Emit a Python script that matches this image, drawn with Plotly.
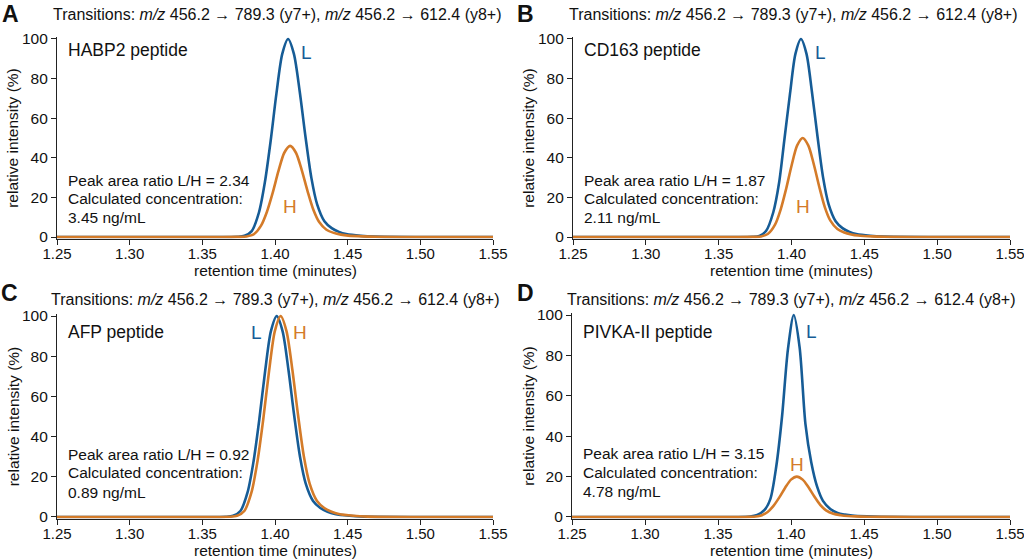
import plotly.graph_objects as go

# ---------------- data ----------------
A_L_x = [1.25, 1.30, 1.35, 1.374, 1.379, 1.384, 1.389, 1.393, 1.397, 1.401, 1.405, 1.409,
         1.413, 1.417, 1.421, 1.425, 1.429, 1.434, 1.439, 1.444, 1.449, 1.459, 1.469, 1.50, 1.55]
A_L_y = [0, 0, 0, 0.1, 0.6, 3.0, 12.5, 27.5, 48.5, 72.5, 92.5, 100,
         92.5, 73.5, 50.5, 30, 16.5, 8, 4.5, 2.6, 1.5, 0.6, 0.2, 0, 0]
A_H_x = [1.25, 1.30, 1.35, 1.3754, 1.3804, 1.3854, 1.3904, 1.3944, 1.3984, 1.4024, 1.4064, 1.4104,
         1.4144, 1.4184, 1.4224, 1.4264, 1.4304, 1.4354, 1.4404, 1.4454, 1.4504, 1.4604, 1.4704, 1.50, 1.55]
A_H_y = [0, 0, 0, 0.05, 0.3, 1.4, 5.75, 12.65, 22.3, 33.35, 42.55, 46,
         42.55, 33.8, 23.2, 13.8, 7.6, 3.7, 2.1, 1.2, 0.7, 0.3, 0.1, 0, 0]

B_L_x = [1.25, 1.30, 1.35, 1.3735, 1.378, 1.3825, 1.3875, 1.3915, 1.395, 1.399, 1.4027, 1.4065,
         1.4103, 1.414, 1.4179, 1.4217, 1.4255, 1.4303, 1.435, 1.4398, 1.4445, 1.454, 1.4635, 1.50, 1.55]
B_L_y = [0, 0, 0, 0.1, 0.6, 3.0, 12.5, 27.5, 48.5, 72.5, 92.5, 100,
         92.5, 73.5, 50.5, 30, 16.5, 8, 4.5, 2.6, 1.5, 0.6, 0.2, 0, 0]
B_H_x = [1.25, 1.30, 1.35, 1.3745, 1.3792, 1.3837, 1.3887, 1.3925, 1.3963, 1.4001, 1.4039, 1.4077,
         1.4115, 1.4153, 1.4191, 1.4229, 1.4267, 1.4315, 1.4362, 1.441, 1.4457, 1.4552, 1.4647, 1.50, 1.55]
B_H_y = [0, 0, 0, 0.05, 0.3, 1.5, 6.25, 13.75, 24.25, 36.25, 46.25, 50,
         46.25, 36.75, 25.25, 15, 8.25, 4, 2.25, 1.3, 0.75, 0.3, 0.1, 0, 0]

C_L_x = [1.25, 1.30, 1.34, 1.3662, 1.3712, 1.3762, 1.3812, 1.3852, 1.3892, 1.3932, 1.3972, 1.4012,
         1.4052, 1.4092, 1.4132, 1.4172, 1.4212, 1.4262, 1.4312, 1.4362, 1.4412, 1.4512, 1.4612, 1.50, 1.55]
C_L_y = [0, 0, 0, 0.1, 0.6, 3.0, 12.5, 27.5, 48.5, 72.5, 92.5, 100,
         92.5, 73.5, 50.5, 30, 16.5, 8, 4.5, 2.6, 1.5, 0.6, 0.2, 0, 0]
C_H_x = [1.25, 1.30, 1.34, 1.3689, 1.3739, 1.3789, 1.3839, 1.3879, 1.3919, 1.3959, 1.3999, 1.4039,
         1.4079, 1.4119, 1.4159, 1.4199, 1.4239, 1.4289, 1.4339, 1.4389, 1.4439, 1.4539, 1.4639, 1.50, 1.55]
C_H_y = [0, 0, 0, 0.1, 0.6, 3.0, 12.5, 27.5, 48.5, 72.5, 92.5, 100,
         92.5, 73.5, 50.5, 30, 16.5, 8, 4.5, 2.6, 1.5, 0.6, 0.2, 0, 0]

D_L_x = [1.25, 1.30, 1.35, 1.3719, 1.3769, 1.3819, 1.3859, 1.3899, 1.3939, 1.3979, 1.4019,
         1.4059, 1.4099, 1.4139, 1.4179, 1.4219, 1.4269, 1.4319, 1.4369, 1.4419, 1.4519, 1.4619, 1.50, 1.55]
D_L_y = [0, 0, 0, 0.2, 1.0, 3.5, 9.0, 25, 50, 83, 100,
         84, 46, 27, 15, 8, 4, 2, 1.2, 0.7, 0.3, 0.1, 0, 0]
D_H_x = [1.25, 1.30, 1.34, 1.369, 1.374, 1.379, 1.384, 1.388, 1.392, 1.396, 1.400, 1.404,
         1.408, 1.412, 1.416, 1.420, 1.424, 1.429, 1.434, 1.439, 1.444, 1.454, 1.464, 1.50, 1.55]
D_H_y = [0, 0, 0, 0.02, 0.12, 0.6, 2.5, 5.5, 9.7, 14.5, 18.5, 20,
         18.5, 14.7, 10.1, 6, 3.3, 1.6, 0.9, 0.5, 0.3, 0.12, 0.04, 0, 0]

x_ticks = [1.25, 1.30, 1.35, 1.40, 1.45, 1.50, 1.55]
y_ticks = [0, 20, 40, 60, 80, 100]

panels = ["A", "B", "C", "D"]
peptides = ["HABP2 peptide", "CD163 peptide", "AFP peptide", "PIVKA-II peptide"]
ratios = ["2.34", "1.87", "0.92", "3.15"]
concs = ["3.45", "2.11", "0.89", "4.78"]
title_text = "Transitions: <i>m/z</i> 456.2 → 789.3 (y7+), <i>m/z</i> 456.2 → 612.4 (y8+)"

curves = {
    "A": (A_L_x, A_L_y, A_H_x, A_H_y),
    "B": (B_L_x, B_L_y, B_H_x, B_H_y),
    "C": (C_L_x, C_L_y, C_H_x, C_H_y),
    "D": (D_L_x, D_L_y, D_H_x, D_H_y),
}

# ---------------- style / layout ----------------
W, H = 1024, 559
BLUE = "#165c96"
ORANGE = "#d47b29"
TXT = "#111111"
FONT = "Liberation Sans, Arial, sans-serif"


def px(x):
    return x / W


def py(y):
    return 1 - y / H


xdom = {"A": [px(57), px(493)], "B": [px(573), px(1010)],
        "C": [px(57), px(493)], "D": [px(572), px(1010)]}
ydom = {"A": [py(238.6), py(37.0)], "B": [py(238.6), py(37.0)],
        "C": [py(518.6), py(314.0)], "D": [py(518.6), py(313.0)]}

L_pos = {"A": (1.422, 93.4), "B": (1.4196, 93.4), "C": (1.3876, 92), "D": (1.4137, 91.6)}
H_pos = {"A": (1.4103, 15.2), "B": (1.4079, 15.2), "C": (1.4172, 92), "D": (1.4041, 26.2)}
pep_y = {"A": 94.4, "B": 94.4, "C": 92.0, "D": 91.6}
txt_y = {"A": [28.3, 19.2, 10.1], "B": [28.3, 19.2, 10.1],
         "C": [31.3, 21.9, 12.4], "D": [31.2, 21.8, 12.4]}
letter_pos = {"A": (10, 14), "B": (525, 14), "C": (9, 293), "D": (525, 293)}
title_pos = {"A": (277, 15), "B": (793, 15), "C": (275, 299), "D": (791, 299)}
xtitle_y = {"A": 270, "B": 270, "C": 550, "D": 550}
ytitle_x = {"A": 13, "B": 529, "C": 13, "D": 529}

fig = go.Figure()
annotations = []
layout_axes = {}

for i, p in enumerate(panels):
    n = "" if i == 0 else str(i + 1)
    xa, ya = "x" + n, "y" + n
    Lx, Ly, Hx, Hy = curves[p]
    fig.add_trace(go.Scatter(x=Lx, y=Ly, mode="lines", xaxis=xa, yaxis=ya,
                             line=dict(color=BLUE, width=2.6, shape="spline", smoothing=0.8),
                             showlegend=False, hoverinfo="skip"))
    fig.add_trace(go.Scatter(x=Hx, y=Hy, mode="lines", xaxis=xa, yaxis=ya,
                             line=dict(color=ORANGE, width=2.6, shape="spline", smoothing=0.8),
                             showlegend=False, hoverinfo="skip"))

    layout_axes["xaxis" + n] = dict(
        domain=xdom[p], range=[1.25, 1.55], anchor=ya, automargin=False,
        tickvals=x_ticks, ticktext=[f"{v:.2f}" for v in x_ticks],
        ticks="outside", ticklen=5, tickwidth=1.2, tickcolor="#222",
        ticklabelstandoff=-4, ticklabeloverflow="allow",
        showline=True, linecolor="#222", linewidth=1.2,
        showgrid=False, zeroline=False,
        tickfont=dict(size=15, color=TXT, family=FONT),
    )
    layout_axes["yaxis" + n] = dict(
        domain=ydom[p], range=[-0.8, 101], anchor=xa, automargin=False,
        tickvals=y_ticks, ticks="outside", ticklen=5, tickwidth=1.2, tickcolor="#222",
        showline=True, linecolor="#222", linewidth=1.2,
        showgrid=False, zeroline=False,
        tickfont=dict(size=15.5, color=TXT, family=FONT),
    )

    x0, x1 = xdom[p]
    y0, y1 = ydom[p]
    # axis titles
    annotations.append(dict(x=(x0 + x1) / 2, y=py(xtitle_y[p]), xref="paper", yref="paper",
                            text="retention time (minutes)", showarrow=False,
                            xanchor="center", yanchor="middle",
                            font=dict(size=15.5, color=TXT, family=FONT)))
    annotations.append(dict(x=px(ytitle_x[p]), y=(y0 + y1) / 2, xref="paper", yref="paper",
                            text="relative intensity (%)", showarrow=False, textangle=-90,
                            xanchor="center", yanchor="middle",
                            font=dict(size=15.5, color=TXT, family=FONT)))
    # panel letter
    lx, ly = letter_pos[p]
    annotations.append(dict(x=px(lx), y=py(ly), xref="paper", yref="paper", text=f"<b>{p}</b>",
                            showarrow=False, xanchor="center", yanchor="middle",
                            font=dict(size=23, color=TXT, family=FONT)))
    # panel title
    tx, ty = title_pos[p]
    annotations.append(dict(x=px(tx), y=py(ty), xref="paper", yref="paper", text=title_text,
                            showarrow=False, xanchor="center", yanchor="middle",
                            font=dict(size=16, color=TXT, family=FONT)))
    # peptide label
    annotations.append(dict(x=1.2565, y=pep_y[p], xref=xa, yref=ya, text=peptides[i],
                            showarrow=False, xanchor="left", yanchor="middle",
                            font=dict(size=17.5, color=TXT, family=FONT)))
    # L / H labels
    annotations.append(dict(x=L_pos[p][0], y=L_pos[p][1], xref=xa, yref=ya, text="L",
                            showarrow=False, xanchor="center", yanchor="middle",
                            font=dict(size=19, color=BLUE, family=FONT)))
    annotations.append(dict(x=H_pos[p][0], y=H_pos[p][1], xref=xa, yref=ya, text="H",
                            showarrow=False, xanchor="center", yanchor="middle",
                            font=dict(size=19, color=ORANGE, family=FONT)))
    # text block
    lines = [f"Peak area ratio L/H = {ratios[i]}", "Calculated concentration:", f"{concs[i]} ng/mL"]
    for t, yy in zip(lines, txt_y[p]):
        annotations.append(dict(x=1.2565, y=yy, xref=xa, yref=ya, text=t,
                                showarrow=False, xanchor="left", yanchor="middle",
                                font=dict(size=15.5, color=TXT, family=FONT)))

fig.update_layout(
    width=W, height=H,
    margin=dict(l=0, r=0, t=0, b=0),
    paper_bgcolor="white", plot_bgcolor="white",
    font=dict(family=FONT, color=TXT),
    annotations=annotations,
    **layout_axes,
)

fig.write_html("out.html")
